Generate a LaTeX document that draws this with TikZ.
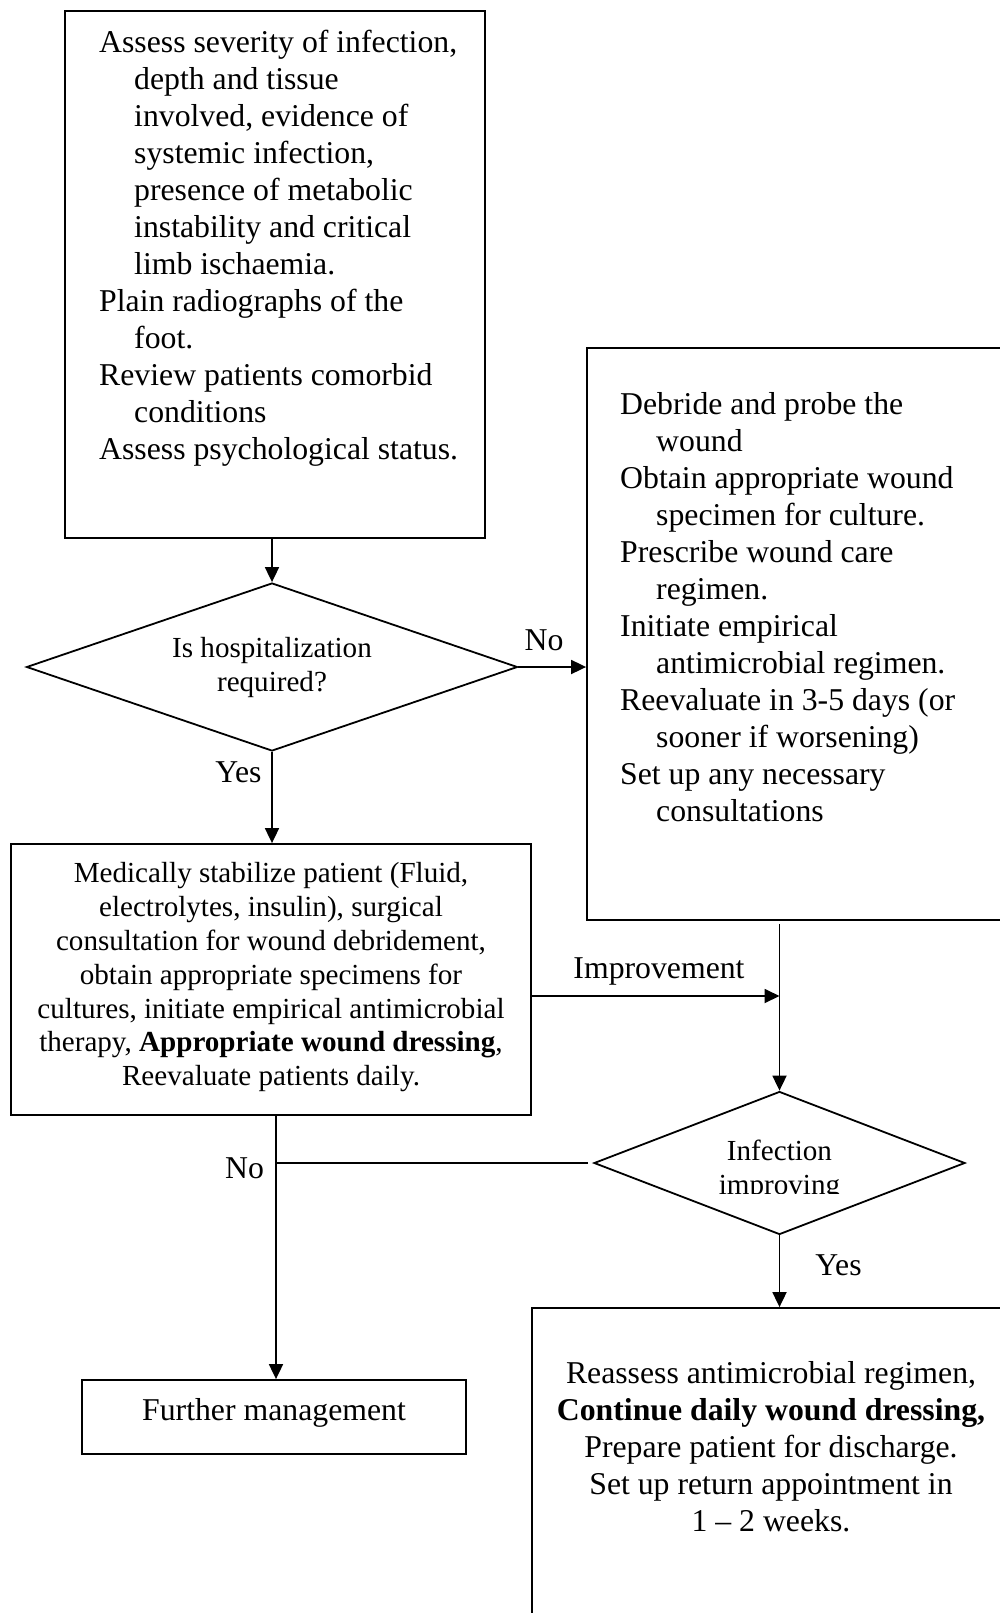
\documentclass[tikz,border=0pt]{standalone}
\usepackage{fontspec}
\setmainfont{Liberation Serif}
\usetikzlibrary{shapes.geometric,arrows.meta}
\tikzset{
  flowbox/.style={draw, line width=1.8pt, rectangle, inner sep=0pt},
  decision/.style={draw, line width=1.8pt, diamond, inner sep=0pt},
  bigtext/.style={font=\fontsize{31.75pt}{37pt}\selectfont, inner sep=0pt},
  smalltext/.style={font=\fontsize{29.1pt}{33.9pt}\selectfont, inner sep=0pt},
  conn/.style={line width=1.8pt},
  arr/.style={conn, -{Triangle[length=15pt,width=14pt]}},
}
\begin{document}
\begin{tikzpicture}[x=1pt,y=-1pt]
\useasboundingbox (0,0) rectangle (1000,1613);
\clip (0,0) rectangle (1000,1613);

% initial assessment
\node[flowbox, minimum width=420pt, minimum height=527pt] (assess) at (275,274.5) {};
\node[bigtext, anchor=north west, align=left] (assesstxt) at (99,30) {%
Assess severity of infection,\\
\hspace*{35pt}depth and tissue\\
\hspace*{35pt}involved, evidence of\\
\hspace*{35pt}systemic infection,\\
\hspace*{35pt}presence of metabolic\\
\hspace*{35pt}instability and critical\\
\hspace*{35pt}limb ischaemia.\\
Plain radiographs of the\\
\hspace*{35pt}foot.\\
Review patients comorbid\\
\hspace*{35pt}conditions\\
Assess psychological status.};

% hospitalization decision
\node[decision, minimum width=491pt, minimum height=168pt] (hosp) at (272,667) {};
\node[smalltext, anchor=north, align=center] (hosptxt) at (272,637.5) {Is hospitalization\\required?};

% outpatient management
\node[flowbox, minimum width=430pt, minimum height=572pt] (outp) at (802,634) {};
\node[bigtext, anchor=north west, align=left] (outptxt) at (620,392.3) {%
Debride and probe the\\
\hspace*{36pt}wound\\
Obtain appropriate wound\\
\hspace*{36pt}specimen for culture.\\
Prescribe wound care\\
\hspace*{36pt}regimen.\\
Initiate empirical\\
\hspace*{36pt}antimicrobial regimen.\\
Reevaluate in 3-5 days (or\\
\hspace*{36pt}sooner if worsening)\\
Set up any necessary\\
\hspace*{36pt}consultations};

% inpatient management
\node[flowbox, minimum width=520pt, minimum height=271pt] (stab) at (271,979.5) {};
\node[smalltext, anchor=north, align=center] (stabtxt) at (271,862) {%
Medically stabilize patient (Fluid,\\
electrolytes, insulin), surgical\\
consultation for wound debridement,\\
obtain appropriate specimens for\\
cultures, initiate empirical antimicrobial\\
therapy, \textbf{Appropriate wound dressing},\\
Reevaluate patients daily.};

% improvement decision
\node[decision, minimum width=371pt, minimum height=143pt] (infe) at (779.5,1163) {};
\begin{scope}
  \clip (600,1100) rectangle (960,1193);
  \node[smalltext, anchor=north, align=center] (infetxt) at (779.5,1139.4) {Infection\\improving};
\end{scope}

% outcomes
\node[flowbox, minimum width=384pt, minimum height=74pt] (further) at (274,1417) {};
\node[bigtext] (furthertxt) at (274,1412.6) {Further management};

\node[flowbox, minimum width=478pt, minimum height=352pt] (disch) at (771,1484) {};
\node[bigtext, anchor=north, align=center] (dischtxt) at (771,1361) {%
Reassess antimicrobial regimen,\\
\textbf{Continue daily wound dressing,}\\
Prepare patient for discharge.\\
Set up return appointment in\\
1 -- 2 weeks.};

% junctions
\coordinate (j1) at (779.5,996);
\coordinate (j2) at (276,1163);

% connectors
\draw[arr] (assess.south -| hosp.north) -- (hosp.north);
\draw[arr] (hosp.east) -- (hosp.east -| outp.west);
\draw[arr] (hosp.south) -- (hosp.south |- stab.north);
\draw[arr] ([yshift=-3pt]outp.south -| infe.north) -- (infe.north);
\draw[arr] (stab.east |- j1) -- (j1);
\draw[conn] ([xshift=-5pt]infe.west) -- (j2);
\draw[arr] (stab.south -| j2) -- (further.north -| j2);
\draw[arr] (infe.south) -- (infe.south |- disch.north);

% connector labels
\node[bigtext, anchor=base] (lblno1) at (544,650.5) {No};
\node[bigtext, anchor=base] (lblyes1) at (238.5,782.4) {Yes};
\node[bigtext, anchor=base] (lblimp) at (659,978.3) {Improvement};
\node[bigtext, anchor=base] (lblno2) at (244.5,1178.3) {No};
\node[bigtext, anchor=base] (lblyes2) at (838.5,1275) {Yes};
\end{tikzpicture}
\end{document}
